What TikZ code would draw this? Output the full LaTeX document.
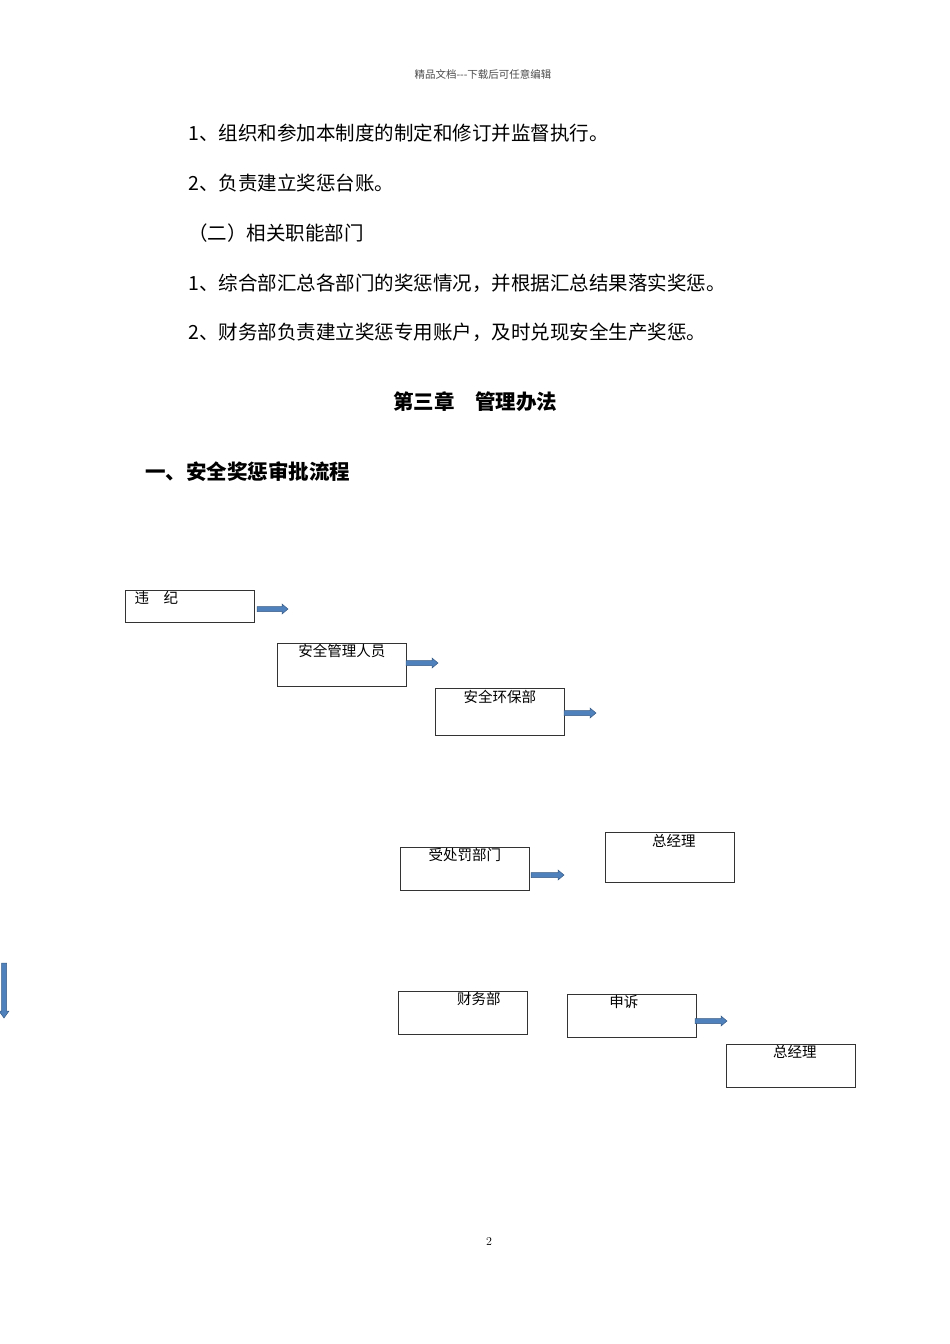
\documentclass[tikz,border=0pt]{standalone}
\usepackage{fontspec}
\newfontfamily\cjk{Noto Sans CJK SC}
\usetikzlibrary{calc}
\begin{document}
\begin{tikzpicture}[x=1pt,y=-1pt,
  box/.style={draw=black!80,line width=0.6pt,minimum width=129pt,anchor=north west,inner sep=0pt},
  btxt/.style={font=\cjk\fontsize{14.5}{16}\selectfont,anchor=north},
  body/.style={font=\cjk\fontsize{19.5}{22}\selectfont,anchor=west,inner sep=0pt},
  barrow/.style={fill=blue!45!cyan!60!black!80,draw=blue!40!black,line width=0.5pt}]
\useasboundingbox[fill=white] (0,0) rectangle (950,1344);
\definecolor{ab}{HTML}{4F81BD}
\tikzset{barrow/.style={fill=ab,draw=ab!70!black,line width=0.5pt}}
\newcommand\harr[3]{\path[barrow] (#1,#3-2.5) -- (#2-6,#3-2.5) -- (#2-6,#3-5) -- (#2,#3) -- (#2-6,#3+5) -- (#2-6,#3+2.5) -- (#1,#3+2.5) -- cycle;}
\node[font=\cjk\fontsize{10.5}{12}\selectfont,text=black!70] (hdr) at (483,74) {精品文档---下载后可任意编辑};
\node[body] (l1) at (188,133) {1、组织和参加本制度的制定和修订并监督执行。};
\node[body] (l2) at (188,183) {2、负责建立奖惩台账。};
\node[body] (l3) at (188,233) {（二）相关职能部门};
\node[body] (l4) at (188,283) {1、综合部汇总各部门的奖惩情况，并根据汇总结果落实奖惩。};
\node[body] (l5) at (188,332) {2、财务部负责建立奖惩专用账户，及时兑现安全生产奖惩。};
\node[font=\cjk\bfseries\fontsize{20.5}{24}\selectfont] (ch) at (475,402) {第三章\quad 管理办法};
\node[font=\cjk\bfseries\fontsize{20.5}{24}\selectfont,anchor=west,inner sep=0pt] (sec) at (145,472) {一、安全奖惩审批流程};
\node[box,minimum height=32pt] (b1) at (125,590) {};
\node[btxt,anchor=north west] at (131,588) {违\quad 纪};
\harr{257}{288}{609}
\node[box,minimum height=43pt] (b2) at (277,643) {};
\node[btxt] at ($(b2.north)+(0,-2)$) {安全管理人员};
\harr{406}{438}{663}
\node[box,minimum height=47pt] (b3) at (435,688) {};
\node[btxt] at ($(b3.north)+(0,-1)$) {安全环保部};
\harr{564}{596}{713}
\node[box,minimum height=43pt] (b4) at (400,847) {};
\node[btxt] at ($(b4.north)+(0,-2)$) {受处罚部门};
\harr{531}{564}{875}
\node[box,minimum height=50pt] (b5) at (605,832) {};
\node[btxt] at ($(b5.north)+(4,-1)$) {总经理};
\path[barrow] (1.5,963) -- (6.5,963) -- (6.5,1011) -- (9,1011) -- (4,1018) -- (-1,1011) -- (1.5,1011) -- cycle;
\node[box,minimum height=43pt] (b6) at (398,991) {};
\node[btxt] at ($(b6.north)+(16,-2)$) {财务部};
\node[box,minimum height=43pt] (b7) at (567,994) {};
\node[btxt] at ($(b7.north)+(-8,-2)$) {申诉};
\harr{695}{727}{1021}
\node[box,minimum height=43pt] (b8) at (726,1044) {};
\node[btxt] at ($(b8.north)+(4,-2)$) {总经理};
\node[font=\fontsize{12}{14}\selectfont] (pg) at (489,1241) {2};
\end{tikzpicture}
\end{document}
